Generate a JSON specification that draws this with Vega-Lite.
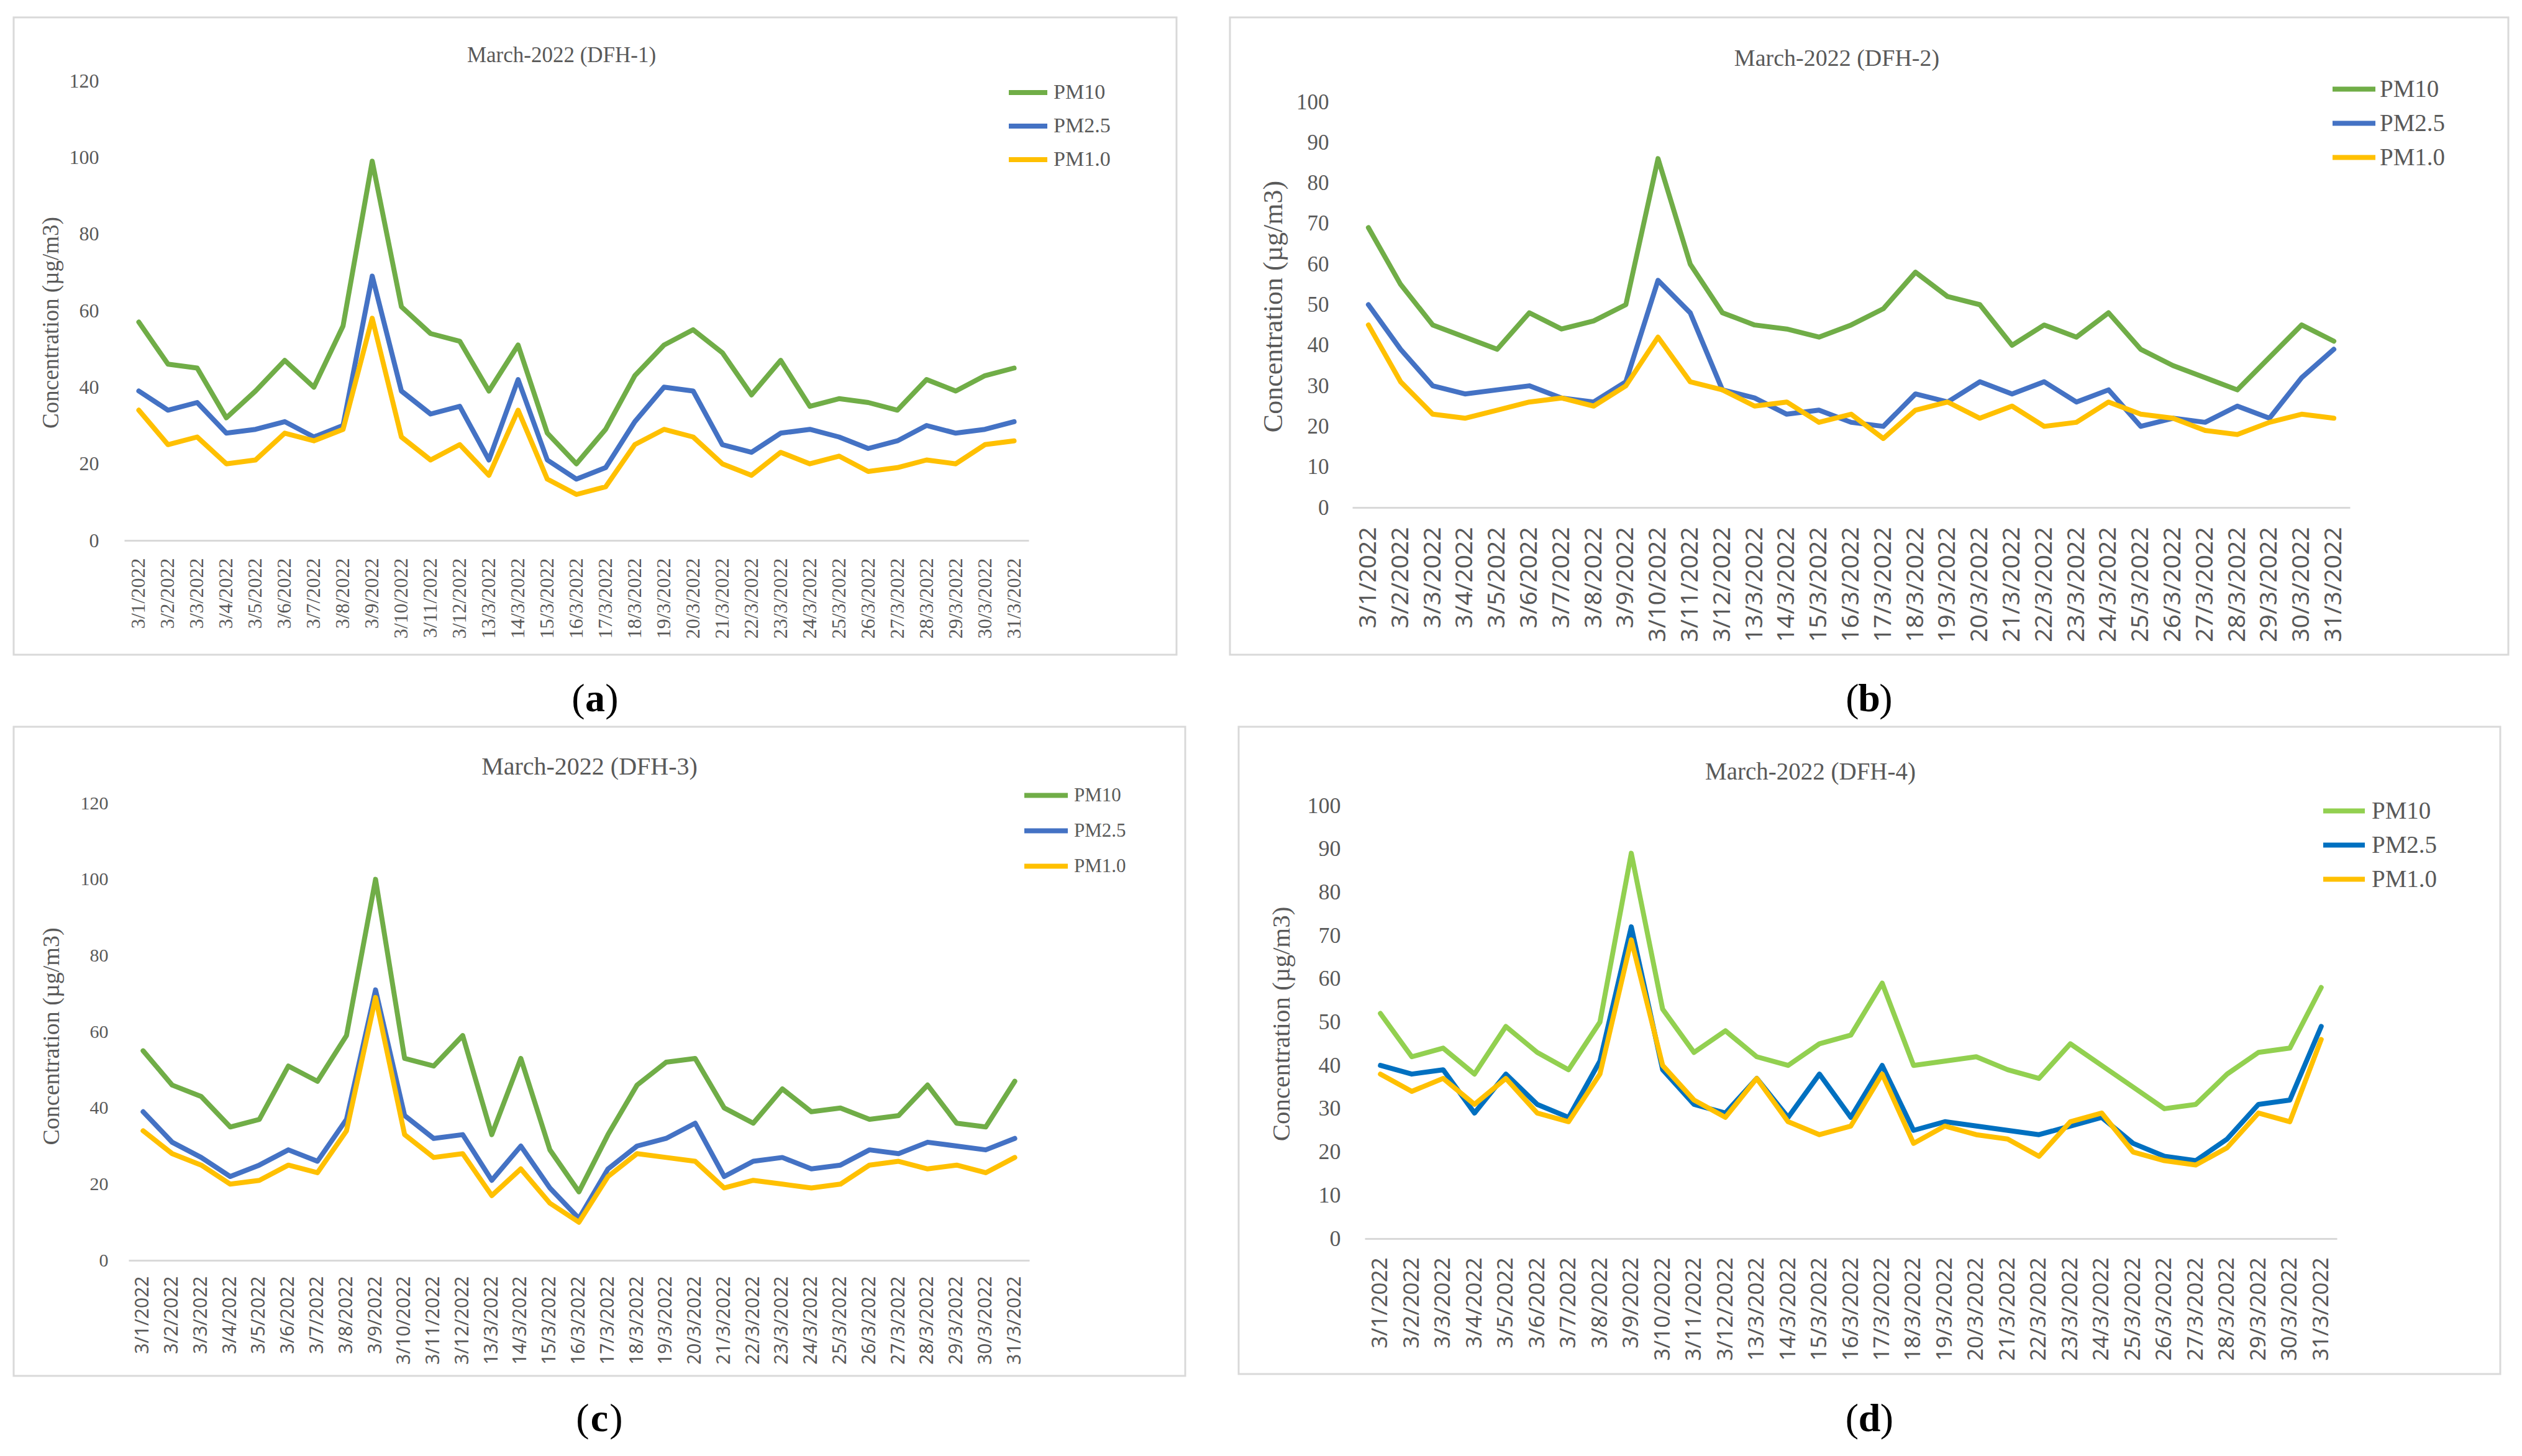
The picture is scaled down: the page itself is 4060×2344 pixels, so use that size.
{
"$schema": "https://vega.github.io/schema/vega-lite/v6.json",
"background": "white",
"padding": {"left": 20, "top": 26, "right": 0, "bottom": 0},
"datasets": {
"a": [
{"d":"3/1/2022","s":"PM10","v":57},{"d":"3/2/2022","s":"PM10","v":46},{"d":"3/3/2022","s":"PM10","v":45},{"d":"3/4/2022","s":"PM10","v":32},{"d":"3/5/2022","s":"PM10","v":39},{"d":"3/6/2022","s":"PM10","v":47},{"d":"3/7/2022","s":"PM10","v":40},{"d":"3/8/2022","s":"PM10","v":56},{"d":"3/9/2022","s":"PM10","v":99},{"d":"3/10/2022","s":"PM10","v":61},{"d":"3/11/2022","s":"PM10","v":54},{"d":"3/12/2022","s":"PM10","v":52},{"d":"13/3/2022","s":"PM10","v":39},{"d":"14/3/2022","s":"PM10","v":51},{"d":"15/3/2022","s":"PM10","v":28},{"d":"16/3/2022","s":"PM10","v":20},{"d":"17/3/2022","s":"PM10","v":29},{"d":"18/3/2022","s":"PM10","v":43},{"d":"19/3/2022","s":"PM10","v":51},{"d":"20/3/2022","s":"PM10","v":55},{"d":"21/3/2022","s":"PM10","v":49},{"d":"22/3/2022","s":"PM10","v":38},{"d":"23/3/2022","s":"PM10","v":47},{"d":"24/3/2022","s":"PM10","v":35},{"d":"25/3/2022","s":"PM10","v":37},{"d":"26/3/2022","s":"PM10","v":36},{"d":"27/3/2022","s":"PM10","v":34},{"d":"28/3/2022","s":"PM10","v":42},{"d":"29/3/2022","s":"PM10","v":39},{"d":"30/3/2022","s":"PM10","v":43},{"d":"31/3/2022","s":"PM10","v":45},
{"d":"3/1/2022","s":"PM2.5","v":39},{"d":"3/2/2022","s":"PM2.5","v":34},{"d":"3/3/2022","s":"PM2.5","v":36},{"d":"3/4/2022","s":"PM2.5","v":28},{"d":"3/5/2022","s":"PM2.5","v":29},{"d":"3/6/2022","s":"PM2.5","v":31},{"d":"3/7/2022","s":"PM2.5","v":27},{"d":"3/8/2022","s":"PM2.5","v":30},{"d":"3/9/2022","s":"PM2.5","v":69},{"d":"3/10/2022","s":"PM2.5","v":39},{"d":"3/11/2022","s":"PM2.5","v":33},{"d":"3/12/2022","s":"PM2.5","v":35},{"d":"13/3/2022","s":"PM2.5","v":21},{"d":"14/3/2022","s":"PM2.5","v":42},{"d":"15/3/2022","s":"PM2.5","v":21},{"d":"16/3/2022","s":"PM2.5","v":16},{"d":"17/3/2022","s":"PM2.5","v":19},{"d":"18/3/2022","s":"PM2.5","v":31},{"d":"19/3/2022","s":"PM2.5","v":40},{"d":"20/3/2022","s":"PM2.5","v":39},{"d":"21/3/2022","s":"PM2.5","v":25},{"d":"22/3/2022","s":"PM2.5","v":23},{"d":"23/3/2022","s":"PM2.5","v":28},{"d":"24/3/2022","s":"PM2.5","v":29},{"d":"25/3/2022","s":"PM2.5","v":27},{"d":"26/3/2022","s":"PM2.5","v":24},{"d":"27/3/2022","s":"PM2.5","v":26},{"d":"28/3/2022","s":"PM2.5","v":30},{"d":"29/3/2022","s":"PM2.5","v":28},{"d":"30/3/2022","s":"PM2.5","v":29},{"d":"31/3/2022","s":"PM2.5","v":31},
{"d":"3/1/2022","s":"PM1.0","v":34},{"d":"3/2/2022","s":"PM1.0","v":25},{"d":"3/3/2022","s":"PM1.0","v":27},{"d":"3/4/2022","s":"PM1.0","v":20},{"d":"3/5/2022","s":"PM1.0","v":21},{"d":"3/6/2022","s":"PM1.0","v":28},{"d":"3/7/2022","s":"PM1.0","v":26},{"d":"3/8/2022","s":"PM1.0","v":29},{"d":"3/9/2022","s":"PM1.0","v":58},{"d":"3/10/2022","s":"PM1.0","v":27},{"d":"3/11/2022","s":"PM1.0","v":21},{"d":"3/12/2022","s":"PM1.0","v":25},{"d":"13/3/2022","s":"PM1.0","v":17},{"d":"14/3/2022","s":"PM1.0","v":34},{"d":"15/3/2022","s":"PM1.0","v":16},{"d":"16/3/2022","s":"PM1.0","v":12},{"d":"17/3/2022","s":"PM1.0","v":14},{"d":"18/3/2022","s":"PM1.0","v":25},{"d":"19/3/2022","s":"PM1.0","v":29},{"d":"20/3/2022","s":"PM1.0","v":27},{"d":"21/3/2022","s":"PM1.0","v":20},{"d":"22/3/2022","s":"PM1.0","v":17},{"d":"23/3/2022","s":"PM1.0","v":23},{"d":"24/3/2022","s":"PM1.0","v":20},{"d":"25/3/2022","s":"PM1.0","v":22},{"d":"26/3/2022","s":"PM1.0","v":18},{"d":"27/3/2022","s":"PM1.0","v":19},{"d":"28/3/2022","s":"PM1.0","v":21},{"d":"29/3/2022","s":"PM1.0","v":20},{"d":"30/3/2022","s":"PM1.0","v":25},{"d":"31/3/2022","s":"PM1.0","v":26}
],
"b": [
{"d":"3/1/2022","s":"PM10","v":69},{"d":"3/2/2022","s":"PM10","v":55},{"d":"3/3/2022","s":"PM10","v":45},{"d":"3/4/2022","s":"PM10","v":42},{"d":"3/5/2022","s":"PM10","v":39},{"d":"3/6/2022","s":"PM10","v":48},{"d":"3/7/2022","s":"PM10","v":44},{"d":"3/8/2022","s":"PM10","v":46},{"d":"3/9/2022","s":"PM10","v":50},{"d":"3/10/2022","s":"PM10","v":86},{"d":"3/11/2022","s":"PM10","v":60},{"d":"3/12/2022","s":"PM10","v":48},{"d":"13/3/2022","s":"PM10","v":45},{"d":"14/3/2022","s":"PM10","v":44},{"d":"15/3/2022","s":"PM10","v":42},{"d":"16/3/2022","s":"PM10","v":45},{"d":"17/3/2022","s":"PM10","v":49},{"d":"18/3/2022","s":"PM10","v":58},{"d":"19/3/2022","s":"PM10","v":52},{"d":"20/3/2022","s":"PM10","v":50},{"d":"21/3/2022","s":"PM10","v":40},{"d":"22/3/2022","s":"PM10","v":45},{"d":"23/3/2022","s":"PM10","v":42},{"d":"24/3/2022","s":"PM10","v":48},{"d":"25/3/2022","s":"PM10","v":39},{"d":"26/3/2022","s":"PM10","v":35},{"d":"27/3/2022","s":"PM10","v":32},{"d":"28/3/2022","s":"PM10","v":29},{"d":"29/3/2022","s":"PM10","v":37},{"d":"30/3/2022","s":"PM10","v":45},{"d":"31/3/2022","s":"PM10","v":41},
{"d":"3/1/2022","s":"PM2.5","v":50},{"d":"3/2/2022","s":"PM2.5","v":39},{"d":"3/3/2022","s":"PM2.5","v":30},{"d":"3/4/2022","s":"PM2.5","v":28},{"d":"3/5/2022","s":"PM2.5","v":29},{"d":"3/6/2022","s":"PM2.5","v":30},{"d":"3/7/2022","s":"PM2.5","v":27},{"d":"3/8/2022","s":"PM2.5","v":26},{"d":"3/9/2022","s":"PM2.5","v":31},{"d":"3/10/2022","s":"PM2.5","v":56},{"d":"3/11/2022","s":"PM2.5","v":48},{"d":"3/12/2022","s":"PM2.5","v":29},{"d":"13/3/2022","s":"PM2.5","v":27},{"d":"14/3/2022","s":"PM2.5","v":23},{"d":"15/3/2022","s":"PM2.5","v":24},{"d":"16/3/2022","s":"PM2.5","v":21},{"d":"17/3/2022","s":"PM2.5","v":20},{"d":"18/3/2022","s":"PM2.5","v":28},{"d":"19/3/2022","s":"PM2.5","v":26},{"d":"20/3/2022","s":"PM2.5","v":31},{"d":"21/3/2022","s":"PM2.5","v":28},{"d":"22/3/2022","s":"PM2.5","v":31},{"d":"23/3/2022","s":"PM2.5","v":26},{"d":"24/3/2022","s":"PM2.5","v":29},{"d":"25/3/2022","s":"PM2.5","v":20},{"d":"26/3/2022","s":"PM2.5","v":22},{"d":"27/3/2022","s":"PM2.5","v":21},{"d":"28/3/2022","s":"PM2.5","v":25},{"d":"29/3/2022","s":"PM2.5","v":22},{"d":"30/3/2022","s":"PM2.5","v":32},{"d":"31/3/2022","s":"PM2.5","v":39},
{"d":"3/1/2022","s":"PM1.0","v":45},{"d":"3/2/2022","s":"PM1.0","v":31},{"d":"3/3/2022","s":"PM1.0","v":23},{"d":"3/4/2022","s":"PM1.0","v":22},{"d":"3/5/2022","s":"PM1.0","v":24},{"d":"3/6/2022","s":"PM1.0","v":26},{"d":"3/7/2022","s":"PM1.0","v":27},{"d":"3/8/2022","s":"PM1.0","v":25},{"d":"3/9/2022","s":"PM1.0","v":30},{"d":"3/10/2022","s":"PM1.0","v":42},{"d":"3/11/2022","s":"PM1.0","v":31},{"d":"3/12/2022","s":"PM1.0","v":29},{"d":"13/3/2022","s":"PM1.0","v":25},{"d":"14/3/2022","s":"PM1.0","v":26},{"d":"15/3/2022","s":"PM1.0","v":21},{"d":"16/3/2022","s":"PM1.0","v":23},{"d":"17/3/2022","s":"PM1.0","v":17},{"d":"18/3/2022","s":"PM1.0","v":24},{"d":"19/3/2022","s":"PM1.0","v":26},{"d":"20/3/2022","s":"PM1.0","v":22},{"d":"21/3/2022","s":"PM1.0","v":25},{"d":"22/3/2022","s":"PM1.0","v":20},{"d":"23/3/2022","s":"PM1.0","v":21},{"d":"24/3/2022","s":"PM1.0","v":26},{"d":"25/3/2022","s":"PM1.0","v":23},{"d":"26/3/2022","s":"PM1.0","v":22},{"d":"27/3/2022","s":"PM1.0","v":19},{"d":"28/3/2022","s":"PM1.0","v":18},{"d":"29/3/2022","s":"PM1.0","v":21},{"d":"30/3/2022","s":"PM1.0","v":23},{"d":"31/3/2022","s":"PM1.0","v":22}
],
"c": [
{"d":"3/1/2022","s":"PM10","v":55},{"d":"3/2/2022","s":"PM10","v":46},{"d":"3/3/2022","s":"PM10","v":43},{"d":"3/4/2022","s":"PM10","v":35},{"d":"3/5/2022","s":"PM10","v":37},{"d":"3/6/2022","s":"PM10","v":51},{"d":"3/7/2022","s":"PM10","v":47},{"d":"3/8/2022","s":"PM10","v":59},{"d":"3/9/2022","s":"PM10","v":100},{"d":"3/10/2022","s":"PM10","v":53},{"d":"3/11/2022","s":"PM10","v":51},{"d":"3/12/2022","s":"PM10","v":59},{"d":"13/3/2022","s":"PM10","v":33},{"d":"14/3/2022","s":"PM10","v":53},{"d":"15/3/2022","s":"PM10","v":29},{"d":"16/3/2022","s":"PM10","v":18},{"d":"17/3/2022","s":"PM10","v":33},{"d":"18/3/2022","s":"PM10","v":46},{"d":"19/3/2022","s":"PM10","v":52},{"d":"20/3/2022","s":"PM10","v":53},{"d":"21/3/2022","s":"PM10","v":40},{"d":"22/3/2022","s":"PM10","v":36},{"d":"23/3/2022","s":"PM10","v":45},{"d":"24/3/2022","s":"PM10","v":39},{"d":"25/3/2022","s":"PM10","v":40},{"d":"26/3/2022","s":"PM10","v":37},{"d":"27/3/2022","s":"PM10","v":38},{"d":"28/3/2022","s":"PM10","v":46},{"d":"29/3/2022","s":"PM10","v":36},{"d":"30/3/2022","s":"PM10","v":35},{"d":"31/3/2022","s":"PM10","v":47},
{"d":"3/1/2022","s":"PM2.5","v":39},{"d":"3/2/2022","s":"PM2.5","v":31},{"d":"3/3/2022","s":"PM2.5","v":27},{"d":"3/4/2022","s":"PM2.5","v":22},{"d":"3/5/2022","s":"PM2.5","v":25},{"d":"3/6/2022","s":"PM2.5","v":29},{"d":"3/7/2022","s":"PM2.5","v":26},{"d":"3/8/2022","s":"PM2.5","v":37},{"d":"3/9/2022","s":"PM2.5","v":71},{"d":"3/10/2022","s":"PM2.5","v":38},{"d":"3/11/2022","s":"PM2.5","v":32},{"d":"3/12/2022","s":"PM2.5","v":33},{"d":"13/3/2022","s":"PM2.5","v":21},{"d":"14/3/2022","s":"PM2.5","v":30},{"d":"15/3/2022","s":"PM2.5","v":19},{"d":"16/3/2022","s":"PM2.5","v":11},{"d":"17/3/2022","s":"PM2.5","v":24},{"d":"18/3/2022","s":"PM2.5","v":30},{"d":"19/3/2022","s":"PM2.5","v":32},{"d":"20/3/2022","s":"PM2.5","v":36},{"d":"21/3/2022","s":"PM2.5","v":22},{"d":"22/3/2022","s":"PM2.5","v":26},{"d":"23/3/2022","s":"PM2.5","v":27},{"d":"24/3/2022","s":"PM2.5","v":24},{"d":"25/3/2022","s":"PM2.5","v":25},{"d":"26/3/2022","s":"PM2.5","v":29},{"d":"27/3/2022","s":"PM2.5","v":28},{"d":"28/3/2022","s":"PM2.5","v":31},{"d":"29/3/2022","s":"PM2.5","v":30},{"d":"30/3/2022","s":"PM2.5","v":29},{"d":"31/3/2022","s":"PM2.5","v":32},
{"d":"3/1/2022","s":"PM1.0","v":34},{"d":"3/2/2022","s":"PM1.0","v":28},{"d":"3/3/2022","s":"PM1.0","v":25},{"d":"3/4/2022","s":"PM1.0","v":20},{"d":"3/5/2022","s":"PM1.0","v":21},{"d":"3/6/2022","s":"PM1.0","v":25},{"d":"3/7/2022","s":"PM1.0","v":23},{"d":"3/8/2022","s":"PM1.0","v":34},{"d":"3/9/2022","s":"PM1.0","v":69},{"d":"3/10/2022","s":"PM1.0","v":33},{"d":"3/11/2022","s":"PM1.0","v":27},{"d":"3/12/2022","s":"PM1.0","v":28},{"d":"13/3/2022","s":"PM1.0","v":17},{"d":"14/3/2022","s":"PM1.0","v":24},{"d":"15/3/2022","s":"PM1.0","v":15},{"d":"16/3/2022","s":"PM1.0","v":10},{"d":"17/3/2022","s":"PM1.0","v":22},{"d":"18/3/2022","s":"PM1.0","v":28},{"d":"19/3/2022","s":"PM1.0","v":27},{"d":"20/3/2022","s":"PM1.0","v":26},{"d":"21/3/2022","s":"PM1.0","v":19},{"d":"22/3/2022","s":"PM1.0","v":21},{"d":"23/3/2022","s":"PM1.0","v":20},{"d":"24/3/2022","s":"PM1.0","v":19},{"d":"25/3/2022","s":"PM1.0","v":20},{"d":"26/3/2022","s":"PM1.0","v":25},{"d":"27/3/2022","s":"PM1.0","v":26},{"d":"28/3/2022","s":"PM1.0","v":24},{"d":"29/3/2022","s":"PM1.0","v":25},{"d":"30/3/2022","s":"PM1.0","v":23},{"d":"31/3/2022","s":"PM1.0","v":27}
],
"d": [
{"d":"3/1/2022","s":"PM10","v":52},{"d":"3/2/2022","s":"PM10","v":42},{"d":"3/3/2022","s":"PM10","v":44},{"d":"3/4/2022","s":"PM10","v":38},{"d":"3/5/2022","s":"PM10","v":49},{"d":"3/6/2022","s":"PM10","v":43},{"d":"3/7/2022","s":"PM10","v":39},{"d":"3/8/2022","s":"PM10","v":50},{"d":"3/9/2022","s":"PM10","v":89},{"d":"3/10/2022","s":"PM10","v":53},{"d":"3/11/2022","s":"PM10","v":43},{"d":"3/12/2022","s":"PM10","v":48},{"d":"13/3/2022","s":"PM10","v":42},{"d":"14/3/2022","s":"PM10","v":40},{"d":"15/3/2022","s":"PM10","v":45},{"d":"16/3/2022","s":"PM10","v":47},{"d":"17/3/2022","s":"PM10","v":59},{"d":"18/3/2022","s":"PM10","v":40},{"d":"19/3/2022","s":"PM10","v":41},{"d":"20/3/2022","s":"PM10","v":42},{"d":"21/3/2022","s":"PM10","v":39},{"d":"22/3/2022","s":"PM10","v":37},{"d":"23/3/2022","s":"PM10","v":45},{"d":"24/3/2022","s":"PM10","v":40},{"d":"25/3/2022","s":"PM10","v":35},{"d":"26/3/2022","s":"PM10","v":30},{"d":"27/3/2022","s":"PM10","v":31},{"d":"28/3/2022","s":"PM10","v":38},{"d":"29/3/2022","s":"PM10","v":43},{"d":"30/3/2022","s":"PM10","v":44},{"d":"31/3/2022","s":"PM10","v":58},
{"d":"3/1/2022","s":"PM2.5","v":40},{"d":"3/2/2022","s":"PM2.5","v":38},{"d":"3/3/2022","s":"PM2.5","v":39},{"d":"3/4/2022","s":"PM2.5","v":29},{"d":"3/5/2022","s":"PM2.5","v":38},{"d":"3/6/2022","s":"PM2.5","v":31},{"d":"3/7/2022","s":"PM2.5","v":28},{"d":"3/8/2022","s":"PM2.5","v":41},{"d":"3/9/2022","s":"PM2.5","v":72},{"d":"3/10/2022","s":"PM2.5","v":39},{"d":"3/11/2022","s":"PM2.5","v":31},{"d":"3/12/2022","s":"PM2.5","v":29},{"d":"13/3/2022","s":"PM2.5","v":37},{"d":"14/3/2022","s":"PM2.5","v":28},{"d":"15/3/2022","s":"PM2.5","v":38},{"d":"16/3/2022","s":"PM2.5","v":28},{"d":"17/3/2022","s":"PM2.5","v":40},{"d":"18/3/2022","s":"PM2.5","v":25},{"d":"19/3/2022","s":"PM2.5","v":27},{"d":"20/3/2022","s":"PM2.5","v":26},{"d":"21/3/2022","s":"PM2.5","v":25},{"d":"22/3/2022","s":"PM2.5","v":24},{"d":"23/3/2022","s":"PM2.5","v":26},{"d":"24/3/2022","s":"PM2.5","v":28},{"d":"25/3/2022","s":"PM2.5","v":22},{"d":"26/3/2022","s":"PM2.5","v":19},{"d":"27/3/2022","s":"PM2.5","v":18},{"d":"28/3/2022","s":"PM2.5","v":23},{"d":"29/3/2022","s":"PM2.5","v":31},{"d":"30/3/2022","s":"PM2.5","v":32},{"d":"31/3/2022","s":"PM2.5","v":49},
{"d":"3/1/2022","s":"PM1.0","v":38},{"d":"3/2/2022","s":"PM1.0","v":34},{"d":"3/3/2022","s":"PM1.0","v":37},{"d":"3/4/2022","s":"PM1.0","v":31},{"d":"3/5/2022","s":"PM1.0","v":37},{"d":"3/6/2022","s":"PM1.0","v":29},{"d":"3/7/2022","s":"PM1.0","v":27},{"d":"3/8/2022","s":"PM1.0","v":38},{"d":"3/9/2022","s":"PM1.0","v":69},{"d":"3/10/2022","s":"PM1.0","v":40},{"d":"3/11/2022","s":"PM1.0","v":32},{"d":"3/12/2022","s":"PM1.0","v":28},{"d":"13/3/2022","s":"PM1.0","v":37},{"d":"14/3/2022","s":"PM1.0","v":27},{"d":"15/3/2022","s":"PM1.0","v":24},{"d":"16/3/2022","s":"PM1.0","v":26},{"d":"17/3/2022","s":"PM1.0","v":38},{"d":"18/3/2022","s":"PM1.0","v":22},{"d":"19/3/2022","s":"PM1.0","v":26},{"d":"20/3/2022","s":"PM1.0","v":24},{"d":"21/3/2022","s":"PM1.0","v":23},{"d":"22/3/2022","s":"PM1.0","v":19},{"d":"23/3/2022","s":"PM1.0","v":27},{"d":"24/3/2022","s":"PM1.0","v":29},{"d":"25/3/2022","s":"PM1.0","v":20},{"d":"26/3/2022","s":"PM1.0","v":18},{"d":"27/3/2022","s":"PM1.0","v":17},{"d":"28/3/2022","s":"PM1.0","v":21},{"d":"29/3/2022","s":"PM1.0","v":29},{"d":"30/3/2022","s":"PM1.0","v":27},{"d":"31/3/2022","s":"PM1.0","v":46}
],
"cap": [{"c": "x"}]
},
"vconcat": [
{"hconcat": [
{"width": 1872, "height": 1026, "data": {"name": "a"},
 "title": {"text": "March-2022 (DFH-1)", "fontSize": 35, "offset": -79, "dx": -54},
 "mark": {"type": "line", "strokeWidth": 8, "strokeJoin": "round", "strokeCap": "round"},
 "encoding": {
  "x": {"field": "d", "type": "nominal", "sort": null, "scale": {"type": "band", "range": [178, 1634], "paddingInner": 0, "paddingOuter": 0},
        "axis": {"title": null, "labelAngle": -90, "labelFont": "Liberation Serif", "labelFontSize": 32, "labelPadding": 28, "offset": -184}},
  "y": {"field": "v", "type": "quantitative", "scale": {"domain": [0, 120], "range": [842, 102], "nice": false, "zero": false},
        "axis": {"values": [0, 20, 40, 60, 80, 100, 120], "title": "Concentration (µg/m3)", "labelFontSize": 32, "offset": -137, "titleFontSize": 37, "titleX": -77, "titleY": 491}},
  "color": {"field": "s", "type": "nominal", "scale": {"domain": ["PM10", "PM2.5", "PM1.0"], "range": ["#70AD47", "#4472C4", "#FFC000"]},
        "legend": {"title": null, "legendX": 1598, "legendY": 94, "symbolSize": 3844, "labelOffset": 6, "clipHeight": 54, "labelFontSize": 34}}
 }},
{"width": 2058, "height": 1026, "data": {"name": "b"},
 "title": {"text": "March-2022 (DFH-2)", "fontSize": 38, "offset": -86, "dx": -52},
 "mark": {"type": "line", "strokeWidth": 8, "strokeJoin": "round", "strokeCap": "round"},
 "encoding": {
  "x": {"field": "d", "type": "nominal", "sort": null, "scale": {"type": "band", "range": [197, 1803], "paddingInner": 0, "paddingOuter": 0},
        "axis": {"title": null, "labelAngle": -90, "labelFont": "Noto Sans", "labelFontSize": 39, "labelPadding": 31, "offset": -237}},
  "y": {"field": "v", "type": "quantitative", "scale": {"domain": [0, 100], "range": [789, 136], "nice": false, "zero": false},
        "axis": {"values": [0, 10, 20, 30, 40, 50, 60, 70, 80, 90, 100], "title": "Concentration (µg/m3)", "labelFontSize": 35, "offset": -159, "titleFontSize": 44, "titleX": -89, "titleY": 465}},
  "color": {"field": "s", "type": "nominal", "scale": {"domain": ["PM10", "PM2.5", "PM1.0"], "range": ["#70AD47", "#4472C4", "#FFC000"]},
        "legend": {"title": null, "legendX": 1771, "legendY": 88, "symbolSize": 4761, "labelOffset": 3, "clipHeight": 55, "labelFontSize": 39}}
 }}
], "spacing": 86, "bounds": "flush", "resolve": {"scale": {"color": "independent"}, "legend": {"color": "independent"}}},
{"hconcat": [
{"width": 1872, "height": 112, "view": {"stroke": null}, "data": {"name": "cap"},
 "layer": [
  {"mark": {"type": "text", "text": "(", "dx": -27, "dy": 14, "font": "Liberation Serif", "fontSize": 64, "color": "#000000"}, "encoding": {}},
  {"mark": {"type": "text", "text": "a", "dy": 14, "font": "Liberation Serif", "fontSize": 64, "fontWeight": "bold", "color": "#000000"}, "encoding": {}},
  {"mark": {"type": "text", "text": ")", "dx": 27, "dy": 14, "font": "Liberation Serif", "fontSize": 64, "color": "#000000"}, "encoding": {}}
 ]},
{"width": 2058, "height": 112, "view": {"stroke": null}, "data": {"name": "cap"},
 "layer": [
  {"mark": {"type": "text", "text": "(", "dx": -27, "dy": 14, "font": "Liberation Serif", "fontSize": 64, "color": "#000000"}, "encoding": {}},
  {"mark": {"type": "text", "text": "b", "dy": 14, "font": "Liberation Serif", "fontSize": 64, "fontWeight": "bold", "color": "#000000"}, "encoding": {}},
  {"mark": {"type": "text", "text": ")", "dx": 27, "dy": 14, "font": "Liberation Serif", "fontSize": 64, "color": "#000000"}, "encoding": {}}
 ]}
], "spacing": 86, "bounds": "flush"},
{"hconcat": [
{"width": 1886, "height": 1045, "data": {"name": "c"},
 "title": {"text": "March-2022 (DFH-3)", "fontSize": 40, "offset": -85, "dx": -16},
 "mark": {"type": "line", "strokeWidth": 8, "strokeJoin": "round", "strokeCap": "round"},
 "encoding": {
  "x": {"field": "d", "type": "nominal", "sort": null, "scale": {"type": "band", "range": [185, 1635], "paddingInner": 0, "paddingOuter": 0},
        "axis": {"title": null, "labelAngle": -90, "labelFont": "Noto Sans", "labelFontSize": 30, "labelPadding": 25, "offset": -186}},
  "y": {"field": "v", "type": "quantitative", "scale": {"domain": [0, 120], "range": [859, 123], "nice": false, "zero": false},
        "axis": {"values": [0, 20, 40, 60, 80, 100, 120], "title": "Concentration (µg/m3)", "labelFontSize": 30, "offset": -152, "titleFontSize": 38, "titleX": -91, "titleY": 498}},
  "color": {"field": "s", "type": "nominal", "scale": {"domain": ["PM10", "PM2.5", "PM1.0"], "range": ["#70AD47", "#4472C4", "#FFC000"]},
        "legend": {"title": null, "legendX": 1623, "legendY": 82, "symbolSize": 4900, "labelOffset": 6, "clipHeight": 57, "labelFontSize": 31}}
 }},
{"width": 2031, "height": 1042, "data": {"name": "d"},
 "title": {"text": "March-2022 (DFH-4)", "fontSize": 39, "offset": -93, "dx": -95},
 "mark": {"type": "line", "strokeWidth": 8, "strokeJoin": "round", "strokeCap": "round"},
 "encoding": {
  "x": {"field": "d", "type": "nominal", "sort": null, "scale": {"type": "band", "range": [203, 1768], "paddingInner": 0, "paddingOuter": 0},
        "axis": {"title": null, "labelAngle": -90, "labelFont": "Noto Sans", "labelFontSize": 35, "labelPadding": 30, "offset": -218}},
  "y": {"field": "v", "type": "quantitative", "scale": {"domain": [0, 100], "range": [824, 127], "nice": false, "zero": false},
        "axis": {"values": [0, 10, 20, 30, 40, 50, 60, 70, 80, 90, 100], "title": "Concentration (µg/m3)", "labelFontSize": 36, "offset": -164, "titleFontSize": 41, "titleX": -95, "titleY": 478}},
  "color": {"field": "s", "type": "nominal", "scale": {"domain": ["PM10", "PM2.5", "PM1.0"], "range": ["#92D050", "#0070C0", "#FFC000"]},
        "legend": {"title": null, "legendX": 1742, "legendY": 108, "symbolSize": 4489, "labelOffset": 7, "clipHeight": 55, "labelFontSize": 39}}
 }}
], "spacing": 86, "bounds": "flush", "resolve": {"scale": {"color": "independent"}, "legend": {"color": "independent"}}},
{"hconcat": [
{"width": 1886, "height": 135, "view": {"stroke": null}, "data": {"name": "cap"},
 "layer": [
  {"mark": {"type": "text", "text": "(", "dx": -27, "font": "Liberation Serif", "fontSize": 64, "color": "#000000"}, "encoding": {}},
  {"mark": {"type": "text", "text": "c", "font": "Liberation Serif", "fontSize": 64, "fontWeight": "bold", "color": "#000000"}, "encoding": {}},
  {"mark": {"type": "text", "text": ")", "dx": 27, "font": "Liberation Serif", "fontSize": 64, "color": "#000000"}, "encoding": {}}
 ]},
{"width": 2031, "height": 135, "view": {"stroke": null}, "data": {"name": "cap"},
 "layer": [
  {"mark": {"type": "text", "text": "(", "dx": -28, "font": "Liberation Serif", "fontSize": 64, "color": "#000000"}, "encoding": {}},
  {"mark": {"type": "text", "text": "d", "font": "Liberation Serif", "fontSize": 64, "fontWeight": "bold", "color": "#000000"}, "encoding": {}},
  {"mark": {"type": "text", "text": ")", "dx": 28, "font": "Liberation Serif", "fontSize": 64, "color": "#000000"}, "encoding": {}}
 ]}
], "spacing": 86, "bounds": "flush"}
],
"spacing": 0,
"resolve": {"scale": {"color": "independent"}, "legend": {"color": "independent"}},
"config": {
 "view": {"stroke": "#d9d9d9", "strokeWidth": 3},
 "font": "Liberation Serif",
 "axis": {"grid": false, "ticks": false, "tickSize": 0, "labelColor": "#595959", "titleColor": "#595959", "labelFont": "Liberation Serif", "titleFont": "Liberation Serif", "titleFontWeight": "normal", "domainColor": "#d9d9d9", "domainWidth": 3, "labelOverlap": false, "labelLimit": 0, "labelFlush": false},
 "axisY": {"domain": false, "labelPadding": 0, "titleAngle": -90, "titleAlign": "center", "titleBaseline": "middle"},
 "legend": {"orient": "none", "symbolType": "stroke", "symbolStrokeWidth": 8, "labelColor": "#595959", "labelFont": "Liberation Serif", "padding": 0, "rowPadding": 0, "direction": "vertical", "labelLimit": 0},
 "title": {"font": "Liberation Serif", "fontWeight": "normal", "color": "#595959", "anchor": "middle", "frame": "group", "baseline": "middle"}
}
}
